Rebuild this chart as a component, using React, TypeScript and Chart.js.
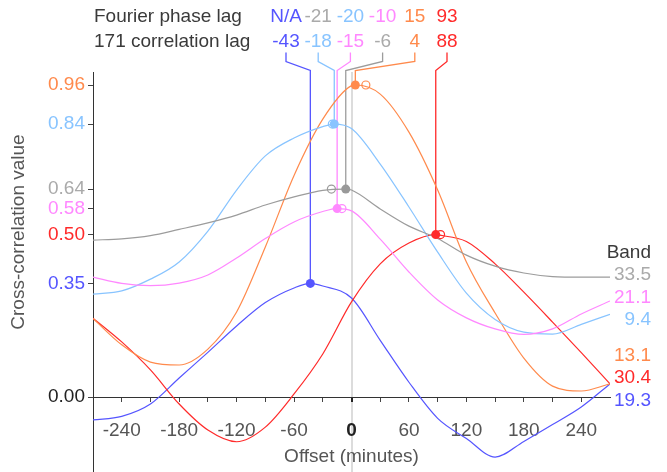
import React, { useEffect, useRef } from 'react';
import { Chart, registerables } from 'chart.js';

Chart.register(...registerables);

// ---------- data ----------
const offsets = [-270, -240, -210, -180, -150, -120, -90, -60, -30, 0, 30, 60, 90, 120, 150, 180, 210, 240, 270];

// series order: gray, pink, light blue, orange, red, blue
const bandNames = ['33.5', '21.1', '9.4', '13.1', '30.4', '19.3'];
const lineColors = ['#9c9c9c', '#ff88ff', '#88c4ff', '#ff8a4c', '#ff2a2a', '#5555ff'];
const textColors = ['#aaaaaa', '#ff88ff', '#88c4ff', '#ff8a4c', '#ff2a2a', '#5555ff'];
const peakValues = [0.64, 0.58, 0.84, 0.96, 0.5, 0.35];
const correlationLags = [-6, -15, -18, 4, 88, -43];
const fourierLags: (number | null)[] = [-21, -10, -20, 15, 93, null];

const grayValues = [0.483, 0.487, 0.497, 0.516, 0.536, 0.56, 0.591, 0.616, 0.636, 0.637, 0.579, 0.526, 0.488, 0.437, 0.403, 0.382, 0.371, 0.369, 0.369];
const pinkValues = [0.369, 0.35, 0.343, 0.351, 0.376, 0.428, 0.488, 0.539, 0.571, 0.573, 0.486, 0.385, 0.299, 0.244, 0.21, 0.193, 0.21, 0.256, 0.296];
const lightBlueValues = [0.317, 0.327, 0.363, 0.416, 0.511, 0.637, 0.742, 0.797, 0.832, 0.826, 0.717, 0.585, 0.446, 0.32, 0.239, 0.2, 0.194, 0.224, 0.255];
const orangeValues = [0.242, 0.161, 0.108, 0.099, 0.148, 0.262, 0.462, 0.682, 0.855, 0.958, 0.932, 0.815, 0.637, 0.416, 0.259, 0.12, 0.034, 0.019, 0.041];
const redValues = [0.243, 0.17, 0.084, -0.021, -0.101, -0.137, -0.092, 0.01, 0.133, 0.293, 0.41, 0.474, 0.499, 0.479, 0.41, 0.323, 0.231, 0.137, 0.041];
const blueValues = [-0.07, -0.059, -0.021, 0.059, 0.138, 0.219, 0.291, 0.336, 0.342, 0.305, 0.175, 0.046, -0.065, -0.127, -0.184, -0.136, -0.084, -0.03, 0.041];
const seriesValues = [grayValues, pinkValues, lightBlueValues, orangeValues, redValues, blueValues];

const yTickValues = [0, 0.35, 0.5, 0.58, 0.64, 0.84, 0.96];
const xTickValues = [-240, -210, -180, -150, -120, -90, -60, -30, 0, 30, 60, 90, 120, 150, 180, 210, 240];

const rowTitles = ['Fourier phase lag', '171 correlation lag'];
const bandTitle = 'Band';
const yTitle = 'Cross-correlation value';
const xTitle = 'Offset (minutes)';

// ---------- layout / style ----------
const FONT = '"Liberation Sans", Arial, Helvetica, sans-serif';
const FS = 19;
const W = 667;
const H = 472;
const COL_START = 286;
const COL_GAP = 32.2;
const ROW1_Y = 17;
const ROW2_Y = 42;
const LABEL_GAP = 22.5;

function yTickColor(v: number) {
  const i = peakValues.findIndex((p) => Math.abs(p - v) < 1e-9);
  return i >= 0 ? textColors[i] : '#222';
}

function spreadLabels(targets: number[], gap: number, maxY: number) {
  type Cl = { s: number; e: number; sum: number };
  let cl: Cl[] = targets.map((t, i) => ({ s: i, e: i, sum: t }));
  const top = (c: Cl) => {
    const n = c.e - c.s + 1;
    return c.sum / n - ((n - 1) * gap) / 2;
  };
  let merged = true;
  while (merged) {
    merged = false;
    for (let i = 0; i < cl.length - 1; i++) {
      const a = cl[i];
      const b = cl[i + 1];
      const aBottom = top(a) + (a.e - a.s) * gap;
      if (top(b) - aBottom < gap) {
        cl.splice(i, 2, { s: a.s, e: b.e, sum: a.sum + b.sum });
        merged = true;
        break;
      }
    }
  }
  const out: number[] = [];
  cl.forEach((c) => {
    let t = top(c);
    const bottom = t + (c.e - c.s) * gap;
    if (bottom > maxY) t -= bottom - maxY;
    for (let k = c.s; k <= c.e; k++) out.push(t + (k - c.s) * gap);
  });
  return out;
}

const overlayPlugin = {
  id: 'overlay',
  beforeDatasetsDraw(chart: any) {
    const { ctx, chartArea, scales } = chart;
    const xs = scales.x;
    const ys = scales.y;
    const order = correlationLags.map((_, i) => i).sort((a, b) => correlationLags[a] - correlationLags[b]);
    ctx.save();
    ctx.lineWidth = 1.3;
    order.forEach((si, col) => {
      const cx = COL_START + col * COL_GAP;
      const px = xs.getPixelForValue(correlationLags[si]);
      const py = ys.getPixelForValue(peakValues[si]);
      ctx.strokeStyle = lineColors[si];
      ctx.beginPath();
      ctx.moveTo(cx, ROW2_Y + 10.5);
      ctx.lineTo(cx, ROW2_Y + 19.5);
      ctx.lineTo(px, chartArea.top - 1.5);
      ctx.lineTo(px, py);
      ctx.stroke();
    });
    ctx.restore();
  },
  afterDraw(chart: any) {
    const { ctx, chartArea, scales } = chart;
    const ys = scales.y;
    ctx.save();
    ctx.font = `${FS}px ${FONT}`;
    ctx.textBaseline = 'middle';

    ctx.fillStyle = '#3a3a3a';
    ctx.textAlign = 'left';
    ctx.fillText(rowTitles[0], chartArea.left + 1, ROW1_Y);
    ctx.fillText(rowTitles[1], chartArea.left + 1, ROW2_Y);

    ctx.textAlign = 'center';
    const idx = correlationLags.map((_, i) => i);
    const row1 = idx.slice().sort((a, b) => {
      const fa = fourierLags[a];
      const fb = fourierLags[b];
      if (fa === null) return -1;
      if (fb === null) return 1;
      return fa - fb;
    });
    row1.forEach((si, col) => {
      const f = fourierLags[si];
      ctx.fillStyle = textColors[si];
      ctx.fillText(f === null ? 'N/A' : String(f), COL_START + col * COL_GAP, ROW1_Y);
    });
    const row2 = idx.slice().sort((a, b) => correlationLags[a] - correlationLags[b]);
    row2.forEach((si, col) => {
      ctx.fillStyle = textColors[si];
      ctx.fillText(String(correlationLags[si]), COL_START + col * COL_GAP, ROW2_Y);
    });

    const ends = seriesValues.map((v, i) => ({ i, y: ys.getPixelForValue(v[v.length - 1]) }));
    ends.sort((a, b) => a.y - b.y);
    const pos = spreadLabels(ends.map((e) => e.y), LABEL_GAP, ys.getPixelForValue(0) + 3.5);
    ctx.textAlign = 'right';
    const rx = chartArea.right + 41;
    ends.forEach((e, k) => {
      ctx.fillStyle = textColors[e.i];
      ctx.fillText(bandNames[e.i], rx, pos[k]);
    });
    ctx.fillStyle = '#3a3a3a';
    ctx.fillText(bandTitle, rx, pos[0] - LABEL_GAP);

    ctx.fillStyle = '#555';
    ctx.textAlign = 'center';
    ctx.fillText(xTitle, (chartArea.left + chartArea.right) / 2, 457);
    ctx.translate(18.5, 232);
    ctx.rotate(-Math.PI / 2);
    ctx.fillText(yTitle, 0, 0);
    ctx.restore();
  },
};

export default function App() {
  const ref = useRef<HTMLCanvasElement | null>(null);
  useEffect(() => {
    document.body.style.margin = '0';
    const canvas = ref.current;
    if (!canvas) return;
    Chart.defaults.font.family = FONT;
    Chart.defaults.font.size = FS;

    const lineSets = seriesValues.map((vals, i) => {
      const pts = offsets.map((x, j) => ({ x, y: vals[j] }));
      pts.push({ x: correlationLags[i], y: peakValues[i] });
      pts.sort((a, b) => a.x - b.x);
      return {
        type: 'line',
        data: pts,
        borderColor: lineColors[i],
        borderWidth: 1.2,
        pointRadius: 0,
        fill: false,
        cubicInterpolationMode: 'monotone',
        order: 2,
      };
    });

    const openIdx = fourierLags.map((f, i) => i).filter((i) => fourierLags[i] !== null);
    const openSet = {
      type: 'line',
      data: openIdx.map((i) => ({ x: fourierLags[i] as number, y: peakValues[i] })),
      showLine: false,
      pointRadius: 4,
      pointBorderWidth: 1.2,
      pointBorderColor: openIdx.map((i) => lineColors[i]),
      pointBackgroundColor: 'rgba(255,255,255,0)',
      order: 1,
    };
    const filledSet = {
      type: 'line',
      data: correlationLags.map((c, i) => ({ x: c, y: peakValues[i] })),
      showLine: false,
      pointRadius: 4.5,
      pointBorderWidth: 0,
      pointBackgroundColor: lineColors.map((c, i) => (i === 0 ? '#999999' : c)),
      order: 0,
    };

    const chart = new Chart(canvas, {
      type: 'line',
      data: { datasets: [...lineSets, openSet, filledSet] as any },
      options: {
        animation: false,
        responsive: false,
        maintainAspectRatio: false,
        layout: { autoPadding: false, padding: { top: 72, right: 57, bottom: 0, left: 0 } },
        plugins: { legend: { display: false }, tooltip: { enabled: false } },
        scales: {
          x: {
            type: 'linear',
            min: -270,
            max: 270,
            position: { y: 0 } as any,
            afterBuildTicks: (s: any) => {
              s.ticks = xTickValues.map((v) => ({ value: v }));
            },
            afterFit: (s: any) => {
              s.paddingLeft = 0;
              s.paddingRight = 0;
              s.paddingTop = 0;
              s.paddingBottom = 0;
            },
            border: { display: true, color: '#333', width: 1 },
            grid: {
              drawOnChartArea: true,
              drawTicks: true,
              tickLength: 4,
              color: (c: any) => (c.tick && c.tick.value === 0 ? '#dcdcdc' : 'rgba(0,0,0,0)'),
              lineWidth: (c: any) => (c.tick && c.tick.value === 0 ? 2 : 1),
              tickColor: (c: any) => (c.tick && c.tick.value === 0 ? '#222' : '#444'),
              tickWidth: (c: any) => (c.tick && c.tick.value === 0 ? 2 : 1),
            },
            ticks: {
              autoSkip: false,
              maxRotation: 0,
              padding: 18,
              callback: (v: any) => (Number(v) % 60 === 0 ? String(v) : ''),
              color: (c: any) => (c.tick && c.tick.value === 0 ? '#222' : '#555'),
              font: (c: any) => ({
                family: FONT,
                size: FS,
                weight: c.tick && c.tick.value === 0 ? 'bold' : 'normal',
              }),
            },
          },
          y: {
            type: 'linear',
            min: -0.23,
            max: 1.0,
            position: 'left',
            afterBuildTicks: (s: any) => {
              s.ticks = yTickValues.map((v) => ({ value: v }));
            },
            afterFit: (s: any) => {
              s.width = 93;
              s.paddingTop = 0;
              s.paddingBottom = 0;
            },
            border: { display: true, color: '#333', width: 1 },
            grid: { drawOnChartArea: false, drawTicks: true, tickLength: 5, tickColor: '#444' },
            ticks: {
              autoSkip: false,
              padding: 3,
              callback: (v: any) => Number(v).toFixed(2),
              color: (c: any) => yTickColor(c.tick ? c.tick.value : 0),
              font: { family: FONT, size: FS },
            },
          },
        },
      },
      plugins: [overlayPlugin],
    } as any);
    return () => chart.destroy();
  }, []);
  return (
    <div style={{ width: W, height: H }}>
      <canvas ref={ref} width={W} height={H} style={{ display: 'block', width: W, height: H }} />
    </div>
  );
}
